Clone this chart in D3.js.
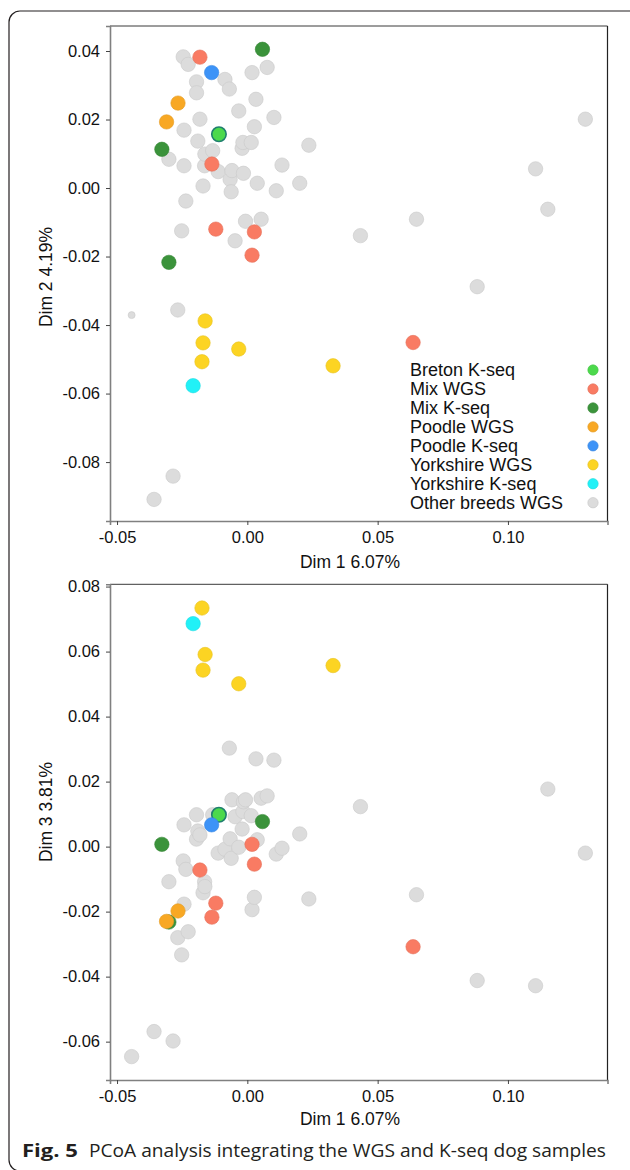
<!DOCTYPE html>
<html><head><meta charset="utf-8">
<script src="https://cdn.jsdelivr.net/npm/d3@7"></script>
<style>body{margin:0;background:#fff} svg{display:block}</style>
</head><body>
<svg id="c" width="630" height="1170"></svg>
<script>
// ---------------- DATA ----------------
const groups = ["Breton K-seq","Mix WGS","Mix K-seq","Poodle WGS","Poodle K-seq","Yorkshire WGS","Yorkshire K-seq","Other breeds WGS"];
const groupColors = ["#4cd94c","#f97b63","#3b933b","#f8a824","#3d93f7","#fcd423","#21f1f7","#dcdcdc"];

// one entry per sample (group index into `groups`)
const sampleGroup = [
  7,7,7,7,7,7,7,7,7,7, 7,7,7,7,7,7,7,7,7,7,
  7,7,7,7,7,7,7,7,7,7, 7,7,7,7,7,7,7,7,7,7,
  7,7,7,7,7,7,7,7,7,
  1,1,1,1,1,1,
  2,2,2,
  3,3,
  4,
  0,
  5,5,5,5,5,
  6
];
const dim1 = [
  -0.0444,-0.0358,-0.0301,-0.0285,-0.0267,-0.0252,-0.0246,-0.0243,-0.0243,-0.0236,
  -0.0227,-0.0195,-0.0195,-0.0190,-0.0182,-0.0170,-0.0164,-0.0163,-0.0133,-0.0112,
  -0.0086,-0.0069,-0.0066,-0.0062,-0.0059,-0.0047,-0.0033,-0.0020,-0.0017,-0.0015,
  -0.0007, 0.0015, 0.0018, 0.0027, 0.0033, 0.0038, 0.0053, 0.0076, 0.0102, 0.0111,
   0.0133, 0.0201, 0.0236, 0.0434, 0.0649, 0.0882, 0.1106, 0.1153, 0.1297,
  -0.0182,-0.0136,-0.0121, 0.0018, 0.0027, 0.0636,
   0.0058,-0.0328,-0.0301,
  -0.0266,-0.0310,
  -0.0137,
  -0.0109,
  -0.0174,-0.0170,-0.0162,-0.0033, 0.0329,
  -0.0208
];
const dim2 = [
  -0.0371,-0.0909, 0.0084,-0.0841,-0.0356,-0.0125, 0.0383, 0.0169, 0.0065,-0.0038,
   0.0361, 0.0310, 0.0278, 0.0137, 0.0201, 0.0006, 0.0065, 0.0099, 0.0109, 0.0048,
   0.0317, 0.0289, 0.0025,-0.0011, 0.0051,-0.0154, 0.0225, 0.0116, 0.0133, 0.0043,
  -0.0097, 0.0133, 0.0337, 0.0179, 0.0259, 0.0014,-0.0091, 0.0352, 0.0206,-0.0008,
   0.0067, 0.0014, 0.0125,-0.0139,-0.0091,-0.0288, 0.0056,-0.0062, 0.0201,
   0.0382, 0.0070,-0.0120,-0.0196,-0.0128,-0.0451,
   0.0405, 0.0113,-0.0217,
   0.0248, 0.0193,
   0.0337,
   0.0157,
  -0.0507,-0.0452,-0.0388,-0.0470,-0.0519,
  -0.0577
];
const dim3 = [
  -0.0646,-0.0569,-0.0108,-0.0598,-0.0280,-0.0333,-0.0044, 0.0067,-0.0177,-0.0070,
  -0.0262, 0.0098, 0.0023, 0.0048, 0.0036,-0.0142,-0.0108,-0.0123, 0.0098,-0.0020,
  -0.0008, 0.0303, 0.0024,-0.0036, 0.0144, 0.0092,-0.0002, 0.0054, 0.0108, 0.0138,
   0.0144, 0.0095,-0.0194,-0.0156, 0.0270, 0.0021, 0.0149, 0.0156, 0.0266,-0.0023,
  -0.0005, 0.0039,-0.0161, 0.0123,-0.0148,-0.0412,-0.0428, 0.0177,-0.0020,
  -0.0072,-0.0217,-0.0174, 0.0007,-0.0054,-0.0308,
   0.0077, 0.0007,-0.0232,
  -0.0198,-0.0230,
   0.0067,
   0.0098,
   0.0734, 0.0543, 0.0591, 0.0501, 0.0557,
   0.0686
];
const smallMarkerSampleTop = 0;   // drawn with a reduced marker in the Dim 2 panel

const xTicks = [-0.05, 0.00, 0.05, 0.10];
const xTickLabels = ["-0.05","0.00","0.05","0.10"];
const dim2Ticks = [0.04, 0.02, 0.00, -0.02, -0.04, -0.06, -0.08];
const dim2TickLabels = ["0.04","0.02","0.00","-0.02","-0.04","-0.06","-0.08"];
const dim3Ticks = [0.08, 0.06, 0.04, 0.02, 0.00, -0.02, -0.04, -0.06];
const dim3TickLabels = ["0.08","0.06","0.04","0.02","0.00","-0.02","-0.04","-0.06"];
const xTitle = "Dim 1 6.07%";
const dim2Title = "Dim 2 4.19%";
const dim3Title = "Dim 3 3.81%";
const captionBold = "Fig. 5";
const captionText = "PCoA analysis integrating the WGS and K-seq dog samples";

// ---------------- DRAW ----------------
const svg = d3.select("#c");
const FONT = "'Liberation Sans', Arial, sans-serif";

// outer figure frame
svg.append("rect").attr("x", 9).attr("y", 11).attr("width", 700).attr("height", 1160)
  .attr("rx", 11).attr("fill", "none").attr("stroke", "#231f20").attr("stroke-width", 1.2);

const L = 110, R = 607.5;
const x = d3.scaleLinear().domain([-0.0527, 0.1382]).range([L, R]);

const order = d3.range(sampleGroup.length).sort((a, b) => {
  const ka = sampleGroup[a] === 7 ? -1 : sampleGroup[a];
  const kb = sampleGroup[b] === 7 ? -1 : sampleGroup[b];
  return ka - kb || a - b;
});

function panel(opts) {
  const { top, bottom, yDomain, yVals, yTicks, yTickLabels, yTitle, yTitleCenter, xTitleY, isTop } = opts;
  const y = d3.scaleLinear().domain(yDomain).range([bottom, top]);
  const g = svg.append("g");

  // spines top/right
  g.append("line").attr("x1", L).attr("x2", R).attr("y1", top).attr("y2", top)
    .attr("stroke", "#3a3a3a").attr("stroke-width", 1);
  g.append("line").attr("x1", R).attr("x2", R).attr("y1", top).attr("y2", bottom)
    .attr("stroke", "#222").attr("stroke-width", 1.2);

  // axes
  const ax = g.append("g").attr("transform", `translate(0,${bottom})`)
    .call(d3.axisBottom(x).tickValues(xTicks).tickFormat((d, i) => xTickLabels[i]).tickSizeOuter(0).tickSize(4).tickPadding(6));
  const ay = g.append("g").attr("transform", `translate(${L},0)`)
    .call(d3.axisLeft(y).tickValues(yTicks).tickFormat((d, i) => yTickLabels[i]).tickSizeOuter(0).tickSize(4).tickPadding(6));
  [ax, ay].forEach(a => {
    a.select(".domain").attr("stroke", "#808080").attr("stroke-width", 1.6);
    a.selectAll(".tick line").attr("stroke", "#444").attr("stroke-width", 1);
    a.selectAll(".tick text").attr("font-family", FONT).attr("font-size", 16.5).attr("fill", "#111");
  });

  // points
  g.append("g").selectAll("circle").data(order).join("circle")
    .attr("cx", i => x(dim1[i]))
    .attr("cy", i => y(yVals[i]))
    .attr("r", i => (isTop && i === smallMarkerSampleTop) ? 3.5 : 7.2)
    .attr("fill", i => groupColors[sampleGroup[i]])
    .attr("stroke", i => sampleGroup[i] === 0 ? "#1f7f6e" : d3.color(groupColors[sampleGroup[i]]).darker(0.25))
    .attr("stroke-width", i => sampleGroup[i] === 0 ? 1.6 : 0.6);

  // titles
  svg.append("text").attr("x", 350).attr("y", xTitleY)
    .attr("text-anchor", "middle").attr("font-family", FONT).attr("font-size", 17.5).attr("fill", "#111")
    .text(xTitle);
  svg.append("text")
    .attr("transform", `translate(52,${yTitleCenter}) rotate(-90)`)
    .attr("text-anchor", "middle").attr("font-family", FONT).attr("font-size", 17.5).attr("fill", "#111")
    .text(yTitle);
  return { g, y };
}

const p1 = panel({ top: 26, bottom: 521, yDomain: [-0.0972, 0.0473], yVals: dim2,
  yTicks: dim2Ticks, yTickLabels: dim2TickLabels, yTitle: dim2Title, yTitleCenter: 277, xTitleY: 568, isTop: true });
const p2 = panel({ top: 584.3, bottom: 1080, yDomain: [-0.0718, 0.0807], yVals: dim3,
  yTicks: dim3Ticks, yTickLabels: dim3TickLabels, yTitle: dim3Title, yTitleCenter: 812, xTitleY: 1125, isTop: false });

// legend (top panel)
const lg = svg.append("g");
const ly = d3.scalePoint().domain(groups).range([370, 502.7]);
groups.forEach((name, i) => {
  lg.append("text").attr("x", 410).attr("y", ly(name) + 6)
    .attr("font-family", FONT).attr("font-size", 18).attr("fill", "#111").text(name);
  lg.append("circle").attr("cx", 593).attr("cy", ly(name)).attr("r", 5.2)
    .attr("fill", groupColors[i]).attr("stroke", d3.color(groupColors[i]).darker(0.3)).attr("stroke-width", 0.6);
});

// caption
const CF = "'Open Sans', 'Noto Sans', sans-serif";
svg.append("text").attr("x", 22).attr("y", 1157).attr("font-family", CF).attr("font-weight", "bold")
  .attr("font-size", 18).attr("fill", "#231f20")
  .attr("textLength", 56).attr("lengthAdjust", "spacingAndGlyphs").text(captionBold);
svg.append("text").attr("x", 89).attr("y", 1157).attr("font-family", CF)
  .attr("font-size", 18).attr("fill", "#231f20")
  .attr("textLength", 517).attr("lengthAdjust", "spacingAndGlyphs").text(captionText);
</script>
</body></html>
